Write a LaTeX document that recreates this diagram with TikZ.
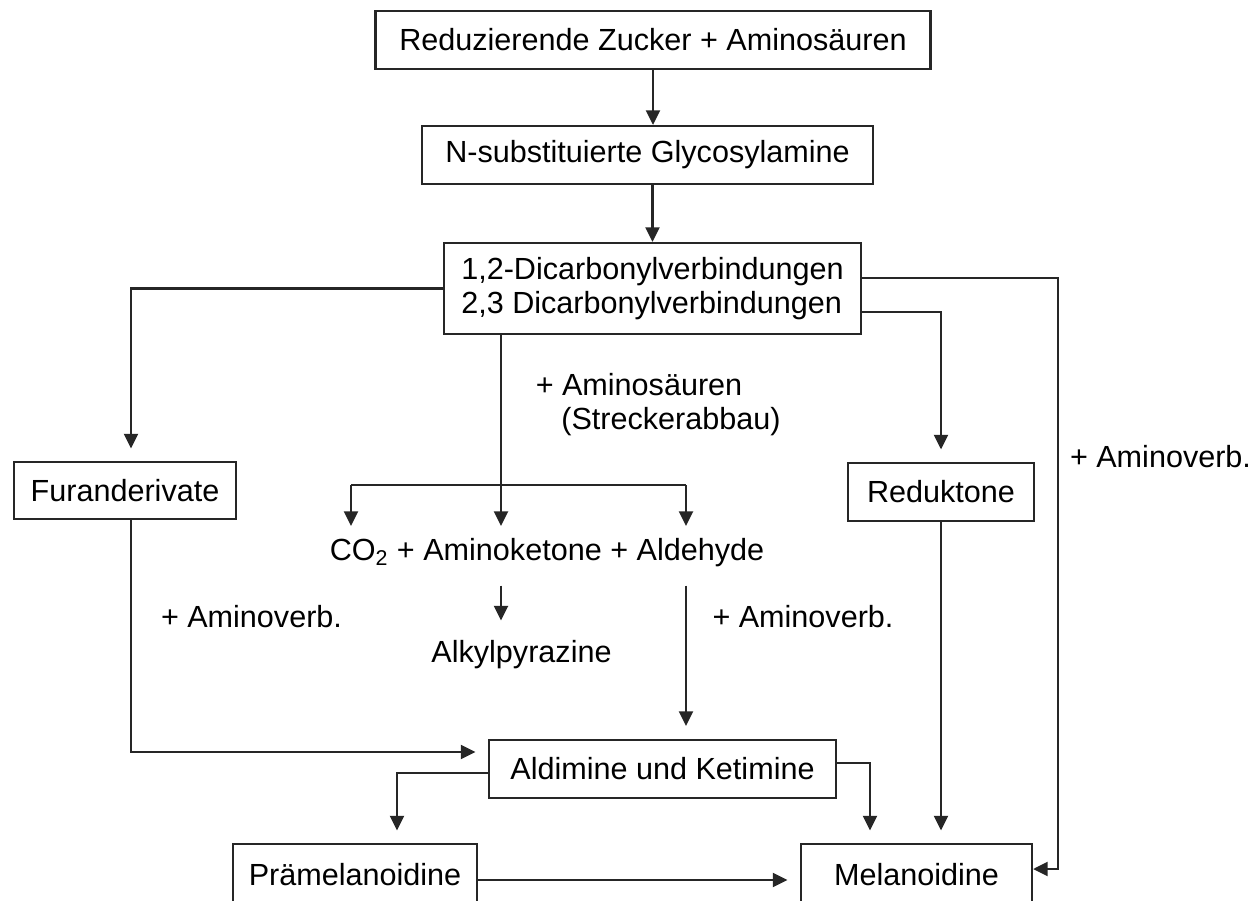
\documentclass[tikz,border=0pt]{standalone}
\usepackage{fontspec}
\setmainfont{Liberation Sans}
\usepackage{tikz}
\usetikzlibrary{arrows.meta, positioning, calc}

\begin{document}
\begin{tikzpicture}[
    stage/.style={
        rectangle, draw=black!85, line width=1.3pt,
        inner sep=0pt, font=\fontsize{17.4}{19}\selectfont
    },
    plain/.style={
        inner sep=0pt, font=\fontsize{17.4}{19}\selectfont
    },
    arr/.style={-{Triangle[length=0.29cm, width=0.28cm]}, line width=1.2pt, draw=black!85},
    line/.style={line width=1.2pt, draw=black!85},
    gap/.style={shorten >=0.25cm},
]

\useasboundingbox[fill=white] (0,0) rectangle (25.18,-18.02);

% Top chain
\node[stage, minimum width=11.1cm, minimum height=1.16cm] (sugar) at (13.06, -0.80) {Reduzierende Zucker + Aminosäuren};
\node[stage, minimum width=9.02cm, minimum height=1.16cm] (glyco) at (12.95, -3.10) {N-substituierte Glycosylamine};
\node[stage, minimum width=8.34cm, minimum height=1.82cm, align=left] (dicarb) at (13.05, -5.77) {1,2-Dicarbonylverbindungen\\2,3 Dicarbonylverbindungen};

% ============ Side branches ============
\node[stage, minimum width=4.44cm, minimum height=1.14cm] (furan) at (2.50, -9.81) {Furanderivate};
\node[stage, minimum width=3.72cm, minimum height=1.16cm] (redukt) at (18.82, -9.84) {Reduktone};

% ============ Strecker branch (CENTER) ============
\node[plain] (aminos) at (12.78, -7.70) {+ Aminosäuren};
\node[plain] (strecker) at (13.42, -8.44) {(Streckerabbau)};
\node[plain] (products) at (10.94, -11.06) {CO\textsubscript{2} + Aminoketone + Aldehyde};
\node[plain] (pyrazine) at (10.43, -13.10) {Alkylpyrazine};

\coordinate (split) at (10.02, -9.70);
\coordinate (splitL) at (7.02, -9.70);
\coordinate (splitR) at (13.72, -9.70);

% ============ Lower part ============
\node[stage, minimum width=6.94cm, minimum height=1.16cm] (aldimine) at (13.25, -15.38) {Aldimine und Ketimine};
\node[stage, minimum width=4.88cm, minimum height=1.24cm] (praemel) at (7.10, -17.50) {Prämelanoidine};
\node[stage, minimum width=4.62cm, minimum height=1.24cm] (melan) at (18.33, -17.50) {Melanoidine};

\node[plain] (aminoL) at (5.03, -12.34) {+ Aminoverb.};
\node[plain] (aminoM) at (16.06, -12.34) {+ Aminoverb.};
\node[plain] (aminoR) at (23.21, -9.14) {+ Aminoverb.};

% ============ Arrows ============
\draw[arr] (sugar.south) -- (sugar.south |- glyco.north);
\draw[arr] (dicarb.north |- glyco.south) -- (dicarb.north);

% Dicarbonyl outputs
\draw[arr, gap] (dicarb.west) -| ([xshift=0.12cm]furan.north);
\draw[arr, gap] ([yshift=-0.47cm]dicarb.east) -| (redukt.north);
\draw[arr] ([yshift=0.21cm]dicarb.east) -| ([xshift=0.5cm, yshift=0.12cm]melan.east) -- ([yshift=0.12cm]melan.east);

% Strecker split
\draw[arr, gap] (dicarb.south -| split) -- (split |- products.north);
\draw[line] (splitL) -- (splitR);
\draw[arr, gap] (splitL) -- (splitL |- products.north);
\draw[arr, gap] (splitR) -- (splitR |- products.north);
\draw[arr, shorten <=0.36cm, shorten >=0.4cm] (products.south -| split) -- (pyrazine.north -| split);
\draw[arr, shorten <=0.36cm, shorten >=0.26cm] (products.south -| splitR) -- (aldimine.north -| splitR);

% Into Aldimine / Melanoidine
\draw[arr, gap] ([xshift=0.12cm]furan.south) |- ([yshift=0.34cm]aldimine.west);
\draw[arr, gap] ([yshift=-0.08cm]aldimine.west) -| ([xshift=0.84cm]praemel.north);
\draw[arr, gap] ([yshift=0.12cm]aldimine.east) -| ([xshift=-0.93cm]melan.north);
\draw[arr, gap] (redukt.south) -- (redukt.south |- melan.north);
\draw[arr, gap] ([yshift=-0.1cm]praemel.east) -- ([yshift=-0.1cm]melan.west);

\end{tikzpicture}
\end{document}
